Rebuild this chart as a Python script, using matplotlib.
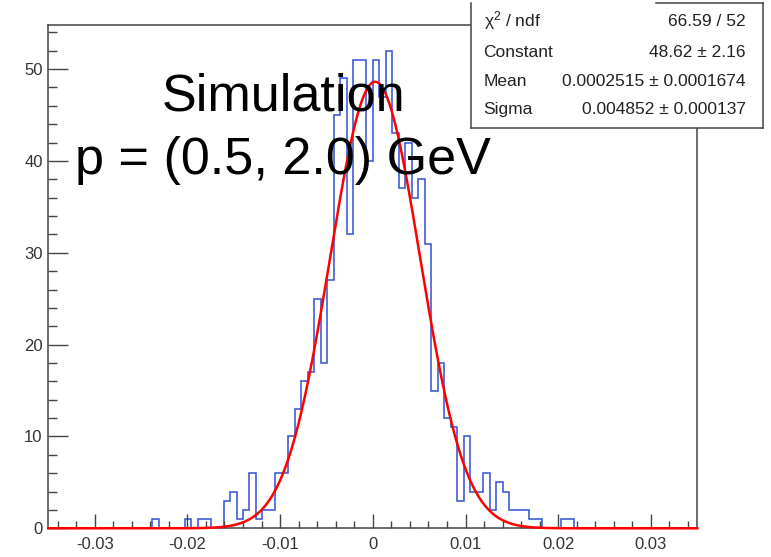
import numpy as np
import matplotlib
matplotlib.use("Agg")
import matplotlib.pyplot as plt
from matplotlib.ticker import MultipleLocator, FuncFormatter
from matplotlib.lines import Line2D
from matplotlib.patches import Rectangle

plt.rcParams['font.family'] = ['Liberation Sans', 'DejaVu Sans']
plt.rcParams['axes.unicode_minus'] = False
plt.rcParams['mathtext.fontset'] = 'custom'
plt.rcParams['mathtext.rm'] = 'Liberation Sans'
plt.rcParams['mathtext.it'] = 'Liberation Sans:italic'

# Histogram binning: 100 bins over [-0.035, 0.035]
x_min, x_max, n_bins = -0.035, 0.035, 100

# Entries per bin
counts = [
    0, 0, 0, 0, 0, 0, 0, 0, 0, 0,
    0, 0, 0, 0, 0, 0, 1, 0, 0, 0,
    0, 1, 0, 1, 1, 0, 0, 3, 4, 1,
    2, 6, 1, 2, 2, 6, 6, 10, 13, 16,
    17, 25, 18, 27, 45, 49, 32, 51, 51, 40,
    51, 47, 52, 43, 37, 42, 36, 38, 31, 15,
    18, 12, 11, 3, 10, 4, 4, 6, 2, 5,
    4, 2, 2, 2, 1, 1, 0, 0, 0, 1,
    1, 0, 0, 0, 0, 0, 0, 0, 0, 0,
    0, 0, 0, 0, 0, 0, 0, 0, 0, 0,
]

# Gaussian fit results
fit_constant = 48.62
fit_mean = 0.0002515
fit_sigma = 0.004852

stat_labels = ["χ$^{2}$ / ndf", "Constant", "Mean", "Sigma"]
stat_values = ["66.59 / 52", "48.62 ± 2.16", "0.0002515 ± 0.0001674", "0.004852 ± 0.000137"]

W, H = 771, 557
fig = plt.figure(figsize=(W / 100, H / 100), dpi=100)

def fx(px):
    return px / W

def fy(py):
    return 1 - py / H

frame_l, frame_r, frame_t, frame_b = 48.3, 697.3, 25.0, 528.3
ax = fig.add_axes([fx(frame_l), fy(frame_b), fx(frame_r - frame_l), (frame_b - frame_t) / H])

edges = np.linspace(x_min, x_max, n_bins + 1)
ax.stairs(counts, edges, color='#2f4fd4', linewidth=1.1, baseline=0)

xs = np.linspace(x_min, x_max, 1000)
gauss = fit_constant * np.exp(-0.5 * ((xs - fit_mean) / fit_sigma) ** 2)
ax.plot(xs, gauss, color='#ff0000', linewidth=1.8, clip_on=False, zorder=3)

ax.set_xlim(x_min, x_max)
ax.set_ylim(0, 54.8)

frame_color = '#444444'
for side in ['left', 'right', 'top', 'bottom']:
    ax.spines[side].set_color(frame_color)
    ax.spines[side].set_linewidth(1.1)

ax.xaxis.set_major_locator(MultipleLocator(0.01))
ax.xaxis.set_minor_locator(MultipleLocator(0.002))
ax.yaxis.set_major_locator(MultipleLocator(10))
ax.yaxis.set_minor_locator(MultipleLocator(2))
ax.xaxis.set_major_formatter(FuncFormatter(lambda v, p: "0" if abs(v) < 1e-12 else f"{v:g}"))
ax.yaxis.set_major_formatter(FuncFormatter(lambda v, p: f"{v:g}"))

ax.tick_params(axis='both', which='both', direction='in', color=frame_color,
               labelcolor='#333333', labelsize=12, width=1.0)
ax.tick_params(axis='y', which='major', length=14.4, pad=4)
ax.tick_params(axis='y', which='minor', length=6.5)
ax.tick_params(axis='x', which='major', length=10.3, pad=6)
ax.tick_params(axis='x', which='minor', length=4.8)

# Overlay labels
fig.text(fx(283), fy(110), "Simulation", fontsize=37.5, ha='center', va='baseline', color='black')
fig.text(fx(283), fy(173.5), "p = (0.5, 2.0) GeV", fontsize=37.5, ha='center', va='baseline', color='black')

# Fit statistics box
box_l, box_r, box_t, box_b = 470.7, 762.7, 2.7, 128.3
fig.add_artist(Rectangle((fx(box_l), fy(box_b)), fx(box_r - box_l), (box_b - box_t) / H,
                         facecolor='white', edgecolor='none', zorder=5))
box_lines = [
    ([box_l, box_l], [box_t, box_b]),
    ([box_l, box_r], [box_b, box_b]),
    ([box_r, box_r], [box_t, box_b]),
    ([656, box_r], [box_t, box_t]),
]
for xs_px, ys_px in box_lines:
    fig.add_artist(Line2D([fx(v) for v in xs_px], [fy(v) for v in ys_px],
                          color=frame_color, linewidth=1.1, zorder=6))

row_baselines = [26.5, 57, 86.5, 114]
for label, value, yb in zip(stat_labels, stat_values, row_baselines):
    fig.text(fx(483.5), fy(yb), label, fontsize=12.5, ha='left', va='baseline', color='#222222', zorder=7)
    fig.text(fx(745.5), fy(yb), value, fontsize=12.5, ha='right', va='baseline', color='#222222', zorder=7)

fig.savefig("out.png", dpi=100)
